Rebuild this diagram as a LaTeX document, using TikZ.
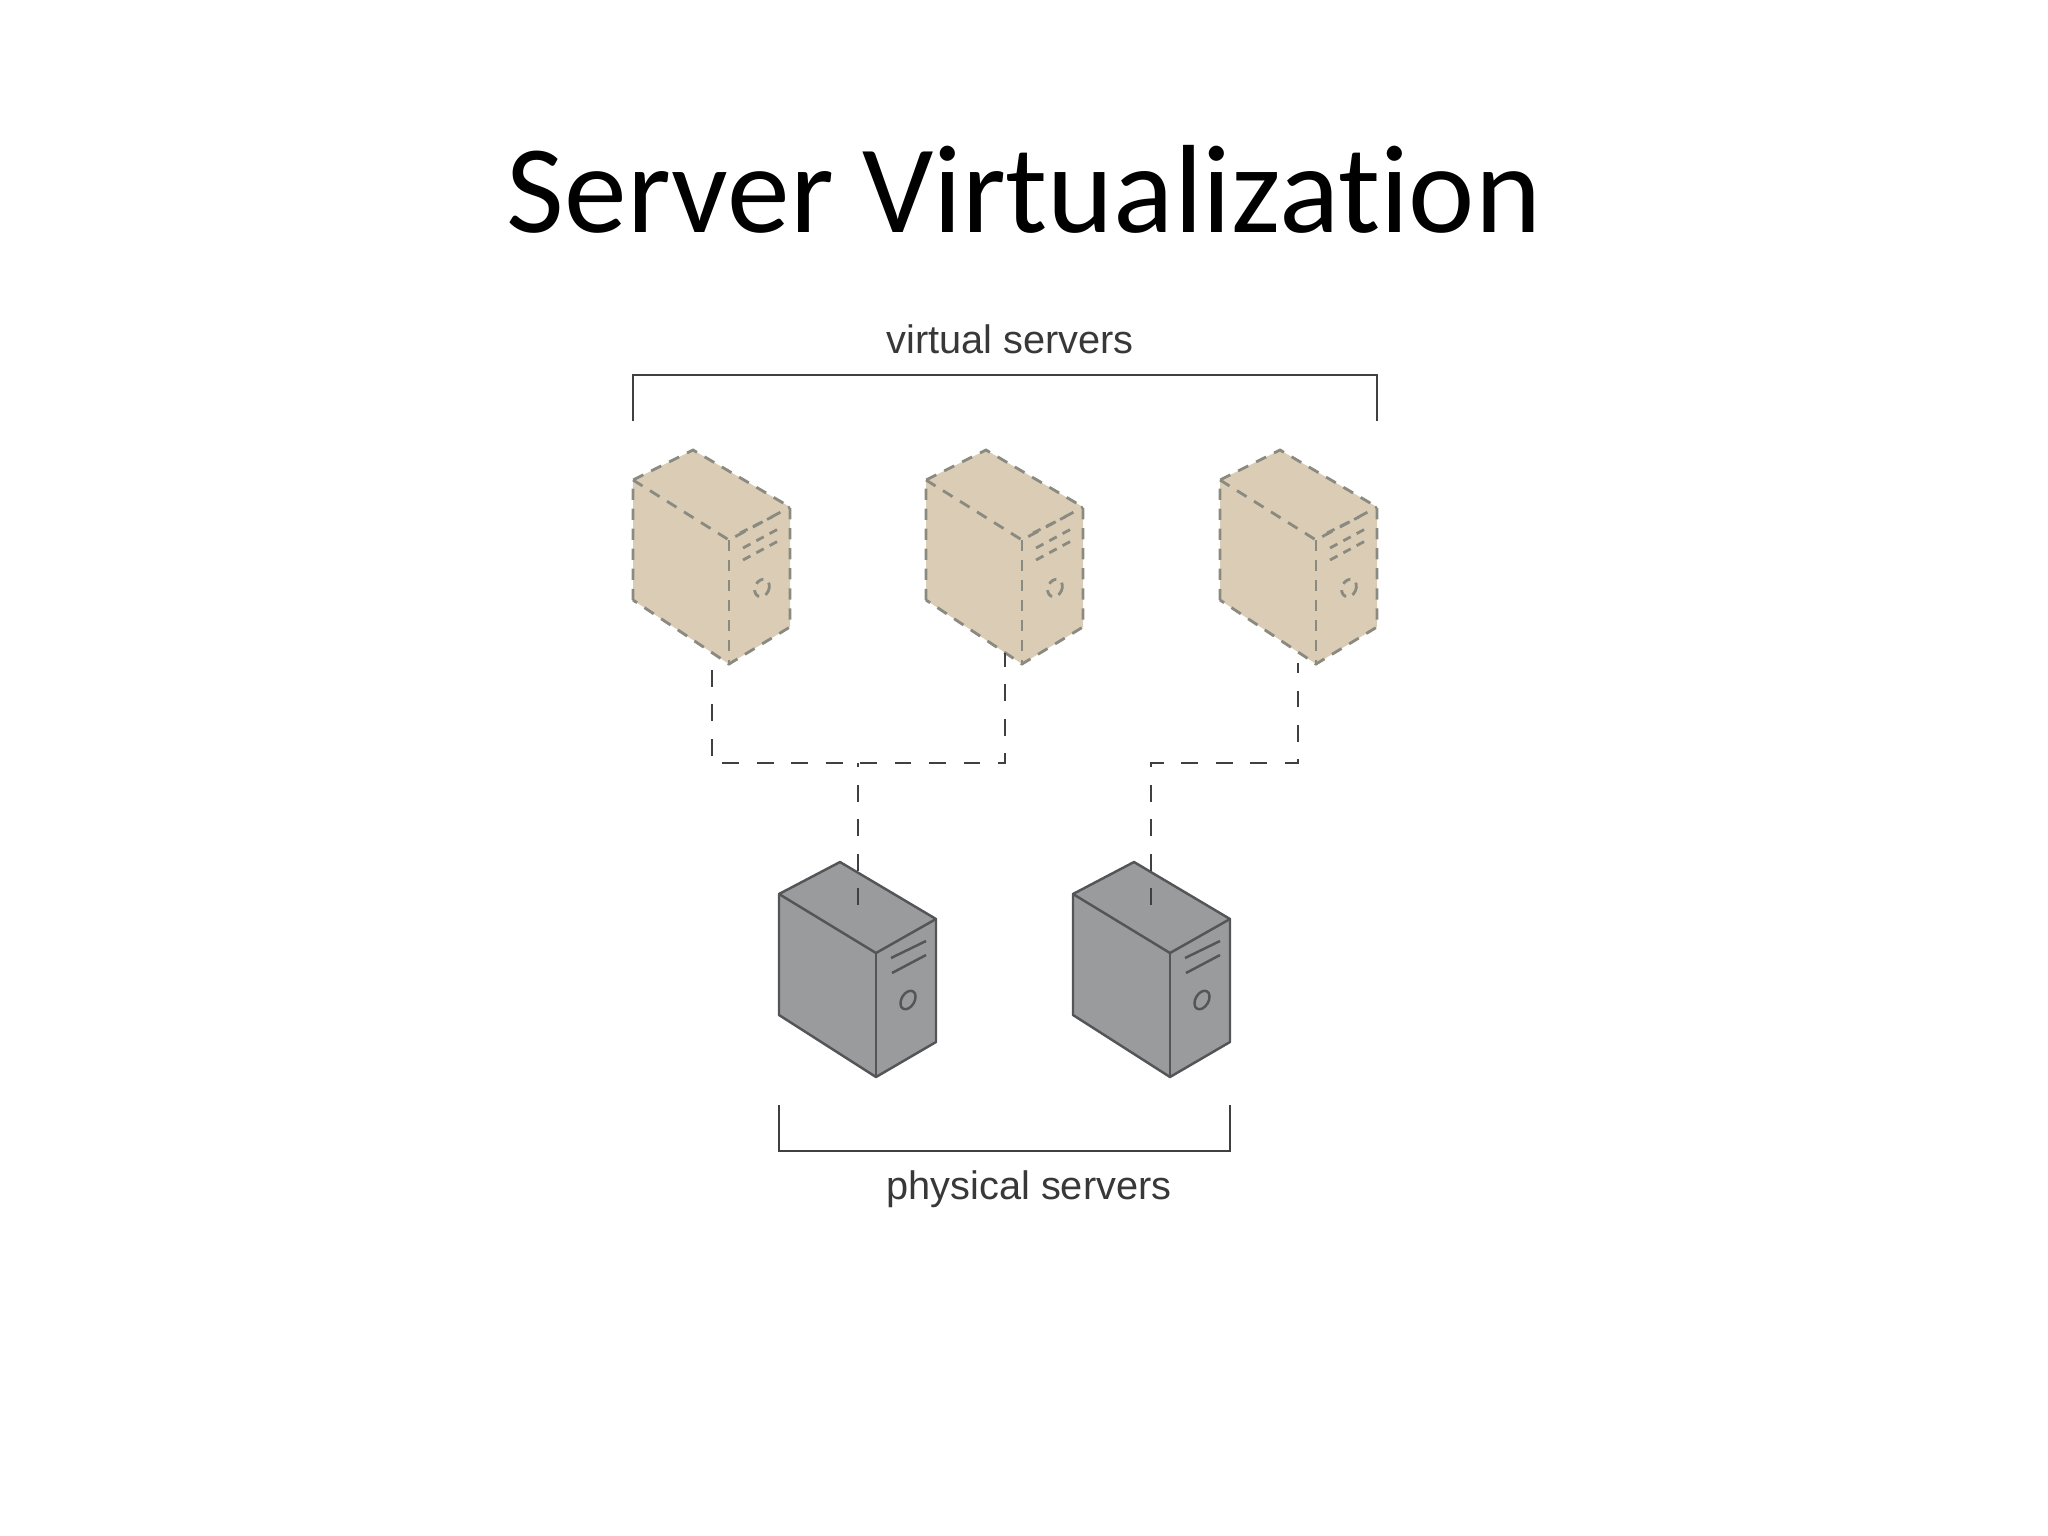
\documentclass[tikz,border=0pt]{standalone}
\usepackage{fontspec}
\newfontfamily\titlefont[Ligatures=NoCommon]{Carlito}
\newfontfamily\labelfont{Liberation Sans}
\definecolor{virtfill}{RGB}{219,205,181}
\definecolor{virtedge}{RGB}{138,138,128}
\definecolor{physfill}{RGB}{154,155,157}
\definecolor{physedge}{RGB}{84,85,89}
\definecolor{linkgray}{RGB}{64,64,66}
\tikzset{
  virtline/.style={draw=virtedge,line width=0.8pt,dash pattern=on 3.2pt off 2.5pt},
  ventline/.style={draw=virtedge,line width=0.8pt,dash pattern=on 2.4pt off 1.9pt},
  physline/.style={draw=physedge,line width=0.7pt,line join=round},
  linkline/.style={draw=linkgray,line width=0.8pt,dash pattern=on 4.8pt off 5pt},
  bracketline/.style={draw=linkgray,line width=0.8pt},
  grouplabel/.style={font=\labelfont\fontsize{11.3}{13}\selectfont,text=black!78,anchor=base,inner sep=0pt}
}
\begin{document}
\begin{tikzpicture}[x=0.01cm,y=-0.01cm]
\useasboundingbox (0,0) rectangle (2048,1536);
\node[font=\titlefont\fontsize{35.7}{42}\selectfont,anchor=base,inner sep=0pt] (title) at (1024,232) {Server Virtualization};
\node[grouplabel] (vlabel) at (1010,353) {virtual servers};
\node[grouplabel] (plabel) at (1029,1199) {physical servers};
% virtual servers
\foreach \x in {0,293,587}
{
\fill[virtfill,shift={(\x,0)}] (633,480) -- (693,450) -- (790,507) -- (790,627) -- (729,664) -- (633,600) -- cycle;
\draw[virtline,shift={(\x,0)}] (633,600) -- (633,480) -- (693,450) -- (790,507) -- (790,627) -- (729,664) -- (633,600);
\draw[virtline,shift={(\x,0)}] (633,480) -- (729,540) -- (790,507);
\draw[virtline,shift={(\x,0)}] (729,540) -- (729,664);
\draw[ventline,shift={(\x,0)}] (740,533) -- (772,517);
\draw[ventline,shift={(\x,0)}] (743,548) -- (780,528);
\draw[ventline,shift={(\x,0)}] (743,560) -- (780,540);
\draw[ventline,shift={(\x,0)}] (762,588) circle[x radius=0.07cm,y radius=0.09cm,rotate=-25];
}
% physical servers
\foreach \x in {0,294}
{
\filldraw[fill=physfill,physline,shift={(\x,0)}] (779,894) -- (840,862) -- (936,919) -- (936,1042) -- (876,1077) -- (779,1015) -- cycle;
\draw[physline,shift={(\x,0)}] (779,894) -- (876,953) -- (936,919);
\draw[physline,shift={(\x,0)}] (876,953) -- (876,1077);
\draw[physline,shift={(\x,0)}] (891,958) -- (926,941);
\draw[physline,shift={(\x,0)}] (892,973) -- (926,955);
\draw[physline,shift={(\x,0)}] (908,1000) circle[x radius=0.065cm,y radius=0.1cm,rotate=-30];
}
% connectors
\coordinate (vs1) at (712,653);
\coordinate (vs2) at (1005,653);
\coordinate (vs3) at (1298,663);
\coordinate (ps1) at (858,905);
\coordinate (ps2) at (1151,905);
\coordinate (busa) at (858,763);
\coordinate (busb) at (1151,763);
\draw[linkline,dash phase=5pt] (vs1) |- (busa) -| (vs2);
\draw[linkline] (ps1) -- (busa);
\draw[linkline] (ps2) -- (busb) -| (vs3);
% brackets
\coordinate (vb1) at (633,421);
\coordinate (vb2) at (1377,421);
\coordinate (vbtop) at (633,375);
\coordinate (pb1) at (779,1105);
\coordinate (pb2) at (1230,1105);
\coordinate (pbbot) at (779,1151);
\draw[bracketline] (vb1) -- (vbtop) -| (vb2);
\draw[bracketline] (pb1) -- (pbbot) -| (pb2);
\end{tikzpicture}
\end{document}
